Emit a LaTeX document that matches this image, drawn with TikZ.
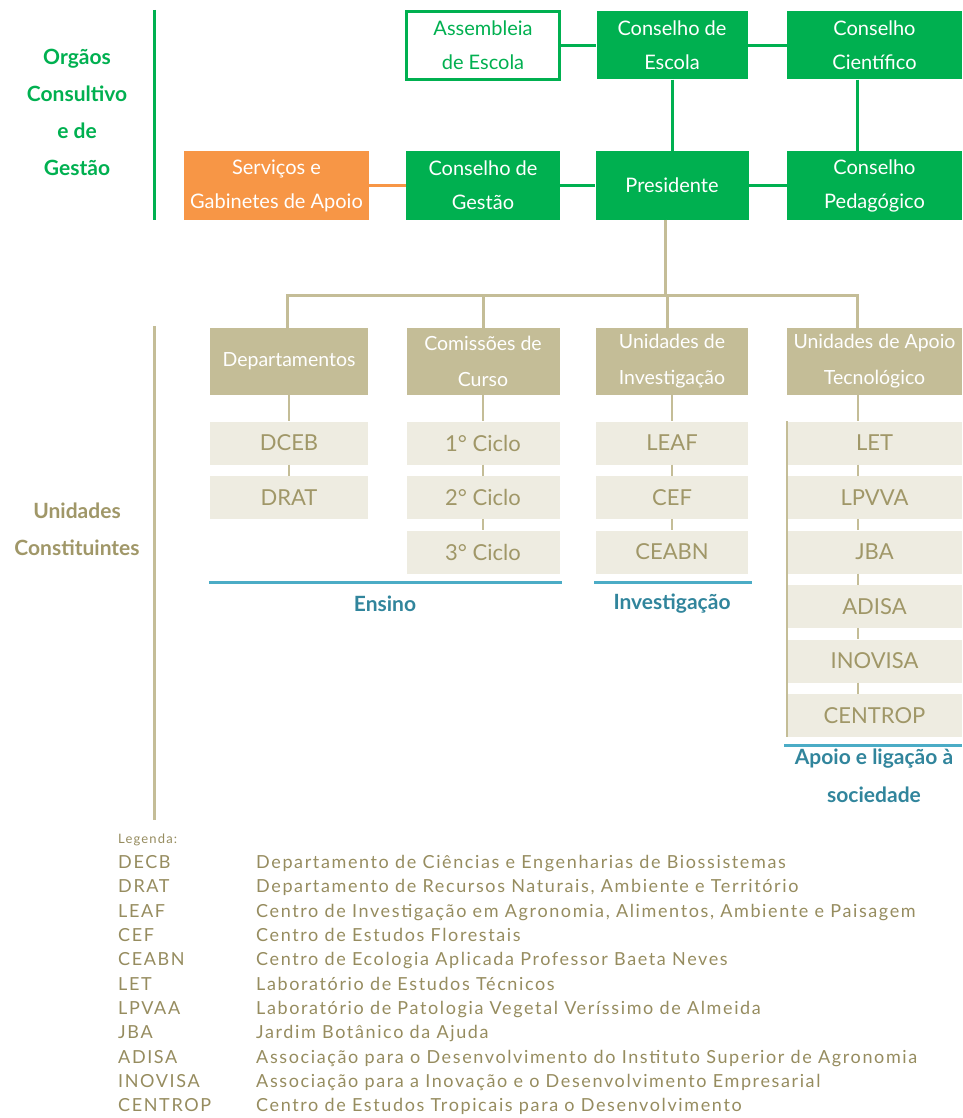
\documentclass[tikz,border=0pt]{standalone}
\usepackage{fontspec}
\setmainfont{Lato}
\newfontfamily\legfont[LetterSpace=9]{Lato}
\usetikzlibrary{positioning}

\definecolor{isagreen}{HTML}{00B050}
\definecolor{isaorange}{HTML}{F79646}
\definecolor{isatan}{HTML}{C4BD97}
\definecolor{isalight}{HTML}{EEECE1}
\definecolor{isatext}{HTML}{A09768}
\definecolor{isalegend}{HTML}{968C5F}
\definecolor{isablue}{HTML}{4BACC6}
\definecolor{isateal}{HTML}{31859C}

\begin{document}
\begin{tikzpicture}[
    x=1pt, y=-1pt,
    font=\fontsize{20}{34}\selectfont,
    gbox/.style={fill=isagreen, text=white, align=center, inner sep=2pt,
                 minimum height=68pt},
    wbox/.style={gbox, fill=white, draw=isagreen, line width=2.5pt, text=isagreen},
    obox/.style={gbox, fill=isaorange},
    hbox/.style={fill=isatan, text=white, align=center, inner sep=2pt,
                 minimum height=67pt, font=\fontsize{19.5}{36}\selectfont},
    ibox/.style={fill=isalight, text=isatext, minimum height=43pt,
                 font=\fontsize{22}{24}\selectfont},
    gline/.style={isagreen, line width=3pt},
    tree/.style={isatan, line width=3pt},
    link/.style={isatan, line width=2pt},
    grp/.style={isablue, line width=3pt},
    grplabel/.style={text=isateal, font=\bfseries\fontsize{21}{38}\selectfont, align=center},
    side/.style={font=\bfseries\fontsize{21}{37}\selectfont, align=center},
    leg/.style={anchor=base west, text=isalegend, font=\legfont\fontsize{18}{18}\selectfont,
                inner sep=0pt},
  ]
  \useasboundingbox (0,0) rectangle (962,1118);

  % --- grid geometry ---
  \def\colA{289}  \def\colB{483}  \def\colC{672}  \def\colD{874.5}
  \def\rowA{45.5} \def\rowB{185.5} \def\rowC{361.5}
  \def\itA{443}   \def\itB{497.5} \def\itC{552}   \def\itD{606.5}
  \def\itE{661}   \def\itF{715.5}

  % --- left margin: section bars and labels ---
  \draw[isagreen, line width=3pt] (154,10) -- (154,220);
  \draw[isatan, line width=3pt] (154,326) -- (154,820);
  \node[side, text=isagreen] (lorg) at (77,112) {Orgãos\\Consultivo\\e de\\Gestão};
  \node[side, text=isatext] (lund) at (77,529) {Unidades\\Constituintes};

  % --- consultive and management bodies ---
  \node[wbox, minimum width=153pt] (asm) at (\colB,\rowA) {Assembleia\\de Escola};
  \node[gbox, minimum width=151pt] (ces) at (\colC,\rowA) {Conselho de\\Escola};
  \node[gbox, minimum width=175pt] (cci) at (\colD,\rowA) {Conselho\\Científico};
  \node[obox, minimum width=185pt] (srv) at (276.5,\rowB) {Serviços e\\Gabinetes de Apoio};
  \node[gbox, minimum width=154pt] (cge) at (\colB,\rowB) {Conselho de\\Gestão};
  \node[gbox, minimum width=153pt] (pre) at (\colC,\rowB) {Presidente};
  \node[gbox, minimum width=175pt] (cpe) at (\colD,\rowB) {Conselho\\Pedagógico};

  \draw[gline] (asm) -- (ces);
  \draw[gline] (ces) -- (cci);
  \draw[gline] (ces) -- (pre);
  \draw[gline] ([xshift=-17pt]cci.south) -- ([xshift=-17pt]cpe.north);
  \draw[isaorange, line width=3pt] (srv) -- (cge);
  \draw[gline] (cge) -- (pre);
  \draw[gline] (pre) -- (cpe);

  % --- constituent units: headers ---
  \node[hbox, minimum width=158pt] (dep) at (\colA,\rowC) {Departamentos};
  \node[hbox, minimum width=153pt] (com) at (\colB,\rowC) {Comissões de\\Curso};
  \node[hbox, minimum width=152pt] (uin) at (\colC,\rowC) {Unidades de\\Investigação};
  \node[hbox, minimum width=175pt] (uat) at (\colD,\rowC) {Unidades de Apoio\\Tecnológico};

  \coordinate (bus) at (0,295);
  \draw[tree] ([xshift=-7pt]pre.south) -- ([xshift=-7pt]pre.south |- bus);
  \draw[tree] ([xshift=-2pt]dep.north) -- ([xshift=-2pt]dep.north |- bus)
    -- ([xshift=-17pt]uat.north |- bus) -- ([xshift=-17pt]uat.north);
  \draw[tree] (com.north) -- (com.north |- bus);
  \draw[tree] ([xshift=-5pt]uin.north) -- ([xshift=-5pt]uin.north |- bus);

  % --- constituent units: items ---
  \node[ibox, minimum width=158pt] (dceb) at (\colA,\itA) {DCEB};
  \node[ibox, minimum width=158pt] (drat) at (\colA,\itB) {DRAT};
  \node[ibox, minimum width=153pt] (cic1) at (\colB,\itA) {1° Ciclo};
  \node[ibox, minimum width=153pt] (cic2) at (\colB,\itB) {2° Ciclo};
  \node[ibox, minimum width=153pt] (cic3) at (\colB,\itC) {3° Ciclo};
  \node[ibox, minimum width=152pt] (leaf) at (\colC,\itA) {LEAF};
  \node[ibox, minimum width=152pt] (cef)  at (\colC,\itB) {CEF};
  \node[ibox, minimum width=152pt] (ceab) at (\colC,\itC) {CEABN};
  \node[ibox, minimum width=175pt] (let)  at (\colD,\itA) {LET};
  \node[ibox, minimum width=175pt] (lpva) at (\colD,\itB) {LPVVA};
  \node[ibox, minimum width=175pt] (jba)  at (\colD,\itC) {JBA};
  \node[ibox, minimum width=175pt] (adis) at (\colD,\itD) {ADISA};
  \node[ibox, minimum width=175pt] (inov) at (\colD,\itE) {INOVISA};
  \node[ibox, minimum width=175pt] (cent) at (\colD,\itF) {CENTROP};

  \draw[link] (dep) -- (dceb);  \draw[link] (dceb) -- (drat);
  \draw[link] (com) -- (cic1);  \draw[link] (cic1) -- (cic2);  \draw[link] (cic2) -- (cic3);
  \draw[link] (uin) -- (leaf);  \draw[link] (leaf) -- (cef);   \draw[link] (cef) -- (ceab);
  \draw[link] ([xshift=-17pt]uat.south) -- ([xshift=-17pt]let.north);
  \draw[link] ([xshift=-17pt]let.south) -- ([xshift=-17pt]lpva.north);
  \draw[link] ([xshift=-17pt]lpva.south) -- ([xshift=-17pt]jba.north);
  \draw[link] ([xshift=-17pt]jba.south) -- ([xshift=-17pt]adis.north);
  \draw[link] ([xshift=-17pt]adis.south) -- ([xshift=-17pt]inov.north);
  \draw[link] ([xshift=-17pt]inov.south) -- ([xshift=-17pt]cent.north);
  \draw[isatan, line width=2.5pt] (let.north west) -- (cent.south west);

  % --- groupings ---
  \draw[grp] (209,582) -- (562,582);
  \node[grplabel] (ens) at (385,604) {Ensino};
  \draw[grp] (594,582) -- (752,582);
  \node[grplabel] (inv) at (672,604) {Investigação};
  \draw[grp] (784,745) -- (962,745);
  \node[grplabel, anchor=north] (apo) at (874,745) {Apoio e ligação à\\sociedade};

  % --- legend ---
  \node[leg, font=\legfont\fontsize{13}{15}\selectfont] (lgd) at (118,843) {Legenda:};
  \node[leg] (k1)  at (118,868)  {DECB};    \node[leg] (d1)  at (256,868)  {Departamento de Ciências e Engenharias de Biossistemas};
  \node[leg] (k2)  at (118,892)  {DRAT};    \node[leg] (d2)  at (256,892)  {Departamento de Recursos Naturais, Ambiente e Território};
  \node[leg] (k3)  at (118,917)  {LEAF};    \node[leg] (d3)  at (256,917)  {Centro de Investigação em Agronomia, Alimentos, Ambiente e Paisagem};
  \node[leg] (k4)  at (118,941)  {CEF};     \node[leg] (d4)  at (256,941)  {Centro de Estudos Florestais};
  \node[leg] (k5)  at (118,965)  {CEABN};   \node[leg] (d5)  at (256,965)  {Centro de Ecologia Aplicada Professor Baeta Neves};
  \node[leg] (k6)  at (118,990)  {LET};     \node[leg] (d6)  at (256,990)  {Laboratório de Estudos Técnicos};
  \node[leg] (k7)  at (118,1014) {LPVAA};   \node[leg] (d7)  at (256,1014) {Laboratório de Patologia Vegetal Veríssimo de Almeida};
  \node[leg] (k8)  at (118,1038) {JBA};     \node[leg] (d8)  at (256,1038) {Jardim Botânico da Ajuda};
  \node[leg] (k9)  at (118,1063) {ADISA};   \node[leg] (d9)  at (256,1063) {Associação para o Desenvolvimento do Instituto Superior de Agronomia};
  \node[leg] (k10) at (118,1087) {INOVISA}; \node[leg] (d10) at (256,1087) {Associação para a Inovação e o Desenvolvimento Empresarial};
  \node[leg] (k11) at (118,1111) {CENTROP}; \node[leg] (d11) at (256,1111) {Centro de Estudos Tropicais para o Desenvolvimento};
\end{tikzpicture}
\end{document}
